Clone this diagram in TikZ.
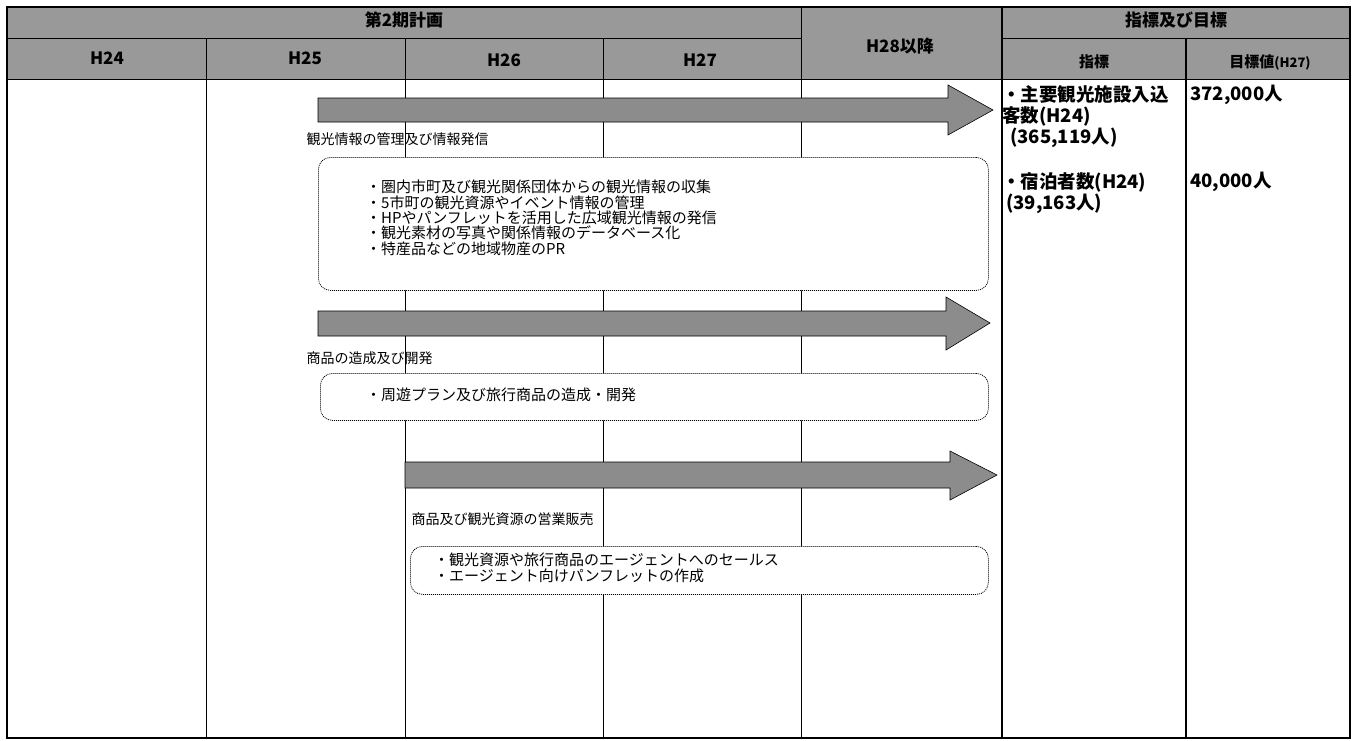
\documentclass[tikz,border=0pt]{standalone}
\usepackage{fontspec}
\setmainfont{Noto Sans CJK JP}
\begin{document}
\begin{tikzpicture}[x=1pt,y=-1pt,
  hdr/.style={fill=black!40},
  grid/.style={line width=0.8pt},
  heavy/.style={line width=1.4pt},
  bigarrow/.style={fill=black!45, draw=black, line width=0.6pt},
  boxdot/.style={draw, dash pattern=on 1pt off 1pt, line width=0.8pt, rounded corners=12pt, fill=white, inner sep=0pt},
  hfont/.style={font=\fontsize{17}{19}\selectfont\bfseries},
  lbl/.style={anchor=west, font=\fontsize{14}{16}\selectfont},
  btxt/.style={anchor=north west, align=left, font=\fontsize{15}{15.3}\selectfont, inner sep=0pt},
  rtxt/.style={anchor=north west, align=left, font=\fontsize{18.5}{21}\selectfont\bfseries, inner sep=0pt}
]
\useasboundingbox (0,0) rectangle (1357,740);
% header background
\fill[hdr] (7,7) rectangle (1350,79);
% vertical lines of body
\draw[grid] (206,38) -- (206,738);
\draw[grid] (405,38) -- (405,738);
\draw[grid] (603,38) -- (603,738);
\draw[grid] (801,7) -- (801,738);
\draw[heavy] (1002,7) -- (1002,738);
\draw[heavy] (1186,38) -- (1186,738);
% horizontal lines
\draw[grid] (7,38) -- (801,38);
\draw[grid] (1002,38) -- (1350,38);
\draw[grid] (7,79) -- (1350,79);
\draw[heavy] (7,7) rectangle (1350,738);
% header texts
\node[hfont] (hplan) at (404,20) {第2期計画};
\node[hfont] (h24) at (107,58) {H24};
\node[hfont] (h25) at (305,58) {H25};
\node[hfont] (h26) at (504,60) {H26};
\node[hfont] (h27) at (700,60) {H27};
\node[hfont] (h28) at (900,46) {H28以降};
\node[hfont] (hidx) at (1176,20) {指標及び目標};
\node[hfont, font=\fontsize{15}{17}\selectfont\bfseries] (hind) at (1094,62) {指標};
\node[hfont, font=\fontsize{15}{17}\selectfont\bfseries] (htgt) at (1270,62) {目標値{\fontsize{13}{15}\selectfont(H27)}};
% dotted boxes
\node[boxdot, anchor=north west, minimum width=670pt, minimum height=133pt] (box1) at (318,157) {};
\node[boxdot, anchor=north west, minimum width=668pt, minimum height=47pt] (box2) at (320,373) {};
\node[boxdot, anchor=north west, minimum width=578pt, minimum height=48pt] (box3) at (410,546) {};
% arrows
\path[bigarrow] (318,98) -- (948,98) -- (948,85) -- (993,110) -- (948,135) -- (948,122) -- (318,122) -- cycle;
\path[bigarrow] (318,311) -- (946,311) -- (946,297) -- (990,323) -- (946,350) -- (946,336) -- (318,336) -- cycle;
\path[bigarrow] (405,462) -- (950,462) -- (950,451) -- (997,475) -- (950,500) -- (950,488) -- (405,488) -- cycle;
% labels
\node[lbl] (l1) at (303,139) {観光情報の管理及び情報発信};
\node[lbl] (l2) at (303,358) {商品の造成及び開発};
\node[lbl] (l3) at (408,519) {商品及び観光資源の営業販売};
% box texts
\node[btxt] (t1) at (366,180) {・圏内市町及び観光関係団体からの観光情報の収集\\・5市町の観光資源やイベント情報の管理\\・HPやパンフレットを活用した広域観光情報の発信\\・観光素材の写真や関係情報のデータベース化\\・特産品などの地域物産のPR};
\node[btxt] (t2) at (366,388) {・周遊プラン及び旅行商品の造成・開発};
\node[btxt] (t3) at (434,553) {・観光資源や旅行商品のエージェントへのセールス\\・エージェント向けパンフレットの作成};
% right columns
\node[rtxt] (r1) at (1002,85) {・主要観光施設入込\\客数(H24)\\\hspace*{8pt}(365,119人)};
\node[rtxt] (r2) at (1190,85) {372,000人};
\node[rtxt] (r3) at (1002,172) {・宿泊者数(H24)\\\hspace*{4pt}(39,163人)};
\node[rtxt] (r4) at (1190,172) {40,000人};
\end{tikzpicture}
\end{document}
